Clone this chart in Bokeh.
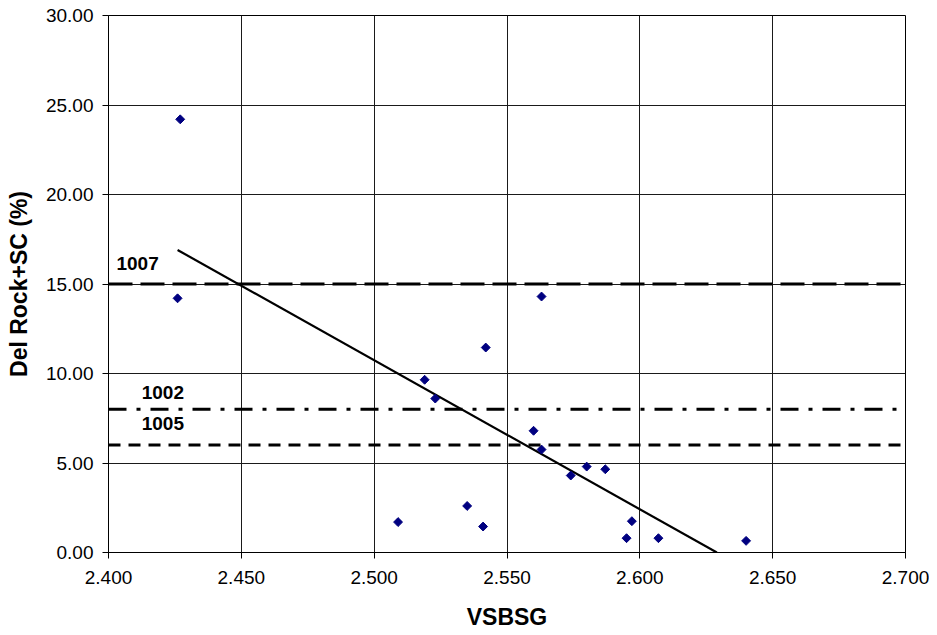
import math
from bokeh.plotting import figure
from bokeh.models import Range1d, FixedTicker, NumeralTickFormatter, Span, ColumnDataSource
from bokeh.core.properties import value
from bokeh.embed import file_html
from bokeh.resources import INLINE

# ---- data ----
vsbsg = [2.427, 2.426, 2.563, 2.542, 2.519, 2.523, 2.560, 2.563, 2.574,
         2.580, 2.587, 2.509, 2.535, 2.541, 2.597, 2.595, 2.607, 2.640]
del_rock = [24.2, 14.2, 14.3, 11.45, 9.65, 8.6, 6.8, 5.75, 4.3,
            4.8, 4.65, 1.7, 2.6, 1.45, 1.75, 0.8, 0.8, 0.65]

trend_x = [2.426, 2.629]
trend_y = [16.9, 0.0]

ref_names = ["1007", "1002", "1005"]
ref_levels = [15.0, 8.0, 6.0]
ref_label_x = [2.403, 2.4125, 2.4125]

x_ticks = [2.40, 2.45, 2.50, 2.55, 2.60, 2.65, 2.70]
y_ticks = [0, 5, 10, 15, 20, 25, 30]

FONT = "Liberation Sans"

p = figure(output_backend="svg", toolbar_location=None,
           frame_width=797, frame_height=537,
           min_border_left=108, min_border_top=15, min_border_right=24, min_border_bottom=76,
           x_range=Range1d(2.4, 2.7), y_range=Range1d(0, 30))

p.background_fill_color = "white"
p.border_fill_color = "white"
p.outline_line_color = "black"
p.outline_line_width = 1

# grid
for g in (p.xgrid, p.ygrid):
    g.grid_line_color = "#1a1a1a"
    g.grid_line_width = 1
p.xgrid.ticker = FixedTicker(ticks=x_ticks)
p.ygrid.ticker = FixedTicker(ticks=y_ticks)

# axes
p.xaxis.ticker = FixedTicker(ticks=x_ticks)
p.yaxis.ticker = FixedTicker(ticks=y_ticks)
p.xaxis.formatter = NumeralTickFormatter(format="0.000")
p.yaxis.formatter = NumeralTickFormatter(format="0.00")
for ax in (p.xaxis, p.yaxis):
    ax.axis_line_color = "black"
    ax.axis_line_width = 1
    ax.major_tick_line_color = "black"
    ax.major_tick_out = 6
    ax.major_tick_in = 0
    ax.minor_tick_line_color = None
    ax.major_label_text_font = FONT
    ax.major_label_text_font_size = "19px"
    ax.major_label_text_color = "black"
    ax.axis_label_text_font = FONT
    ax.axis_label_text_font_size = "23px"
    ax.axis_label_text_font_style = "bold"
    ax.axis_label_text_color = "black"
p.xaxis.axis_label = "VSBSG"
p.yaxis.axis_label = "Del Rock+SC (%)"
p.xaxis.major_label_standoff = 12
p.yaxis.major_label_standoff = 9
p.xaxis.axis_label_standoff = 17
p.yaxis.axis_label_standoff = 11

# reference lines
dashes = ["24 8", "18 10 4 10", "12 8"]
for lvl, d in zip(ref_levels, dashes):
    p.add_layout(Span(location=lvl, dimension="width", line_color="black",
                      line_width=3, line_dash=d))

# labels above the reference lines
offsets = [-21, -17, -22]
for i in range(3):
    src = ColumnDataSource(dict(x=[ref_label_x[i]], y=[ref_levels[i]], t=[ref_names[i]]))
    p.text(x="x", y="y", text="t", source=src, text_font=value(FONT),
           text_font_size="19px", text_font_style="bold", text_color="black",
           text_align="left", text_baseline="middle", y_offset=offsets[i])

# trend line
p.line(trend_x, trend_y, line_color="black", line_width=2.2)

# points
p.scatter(vsbsg, del_rock, marker="square", angle=math.pi / 4, size=6.3,
          fill_color="#000080", line_color="#000080")

open("out.html", "w").write(file_html(p, INLINE))
